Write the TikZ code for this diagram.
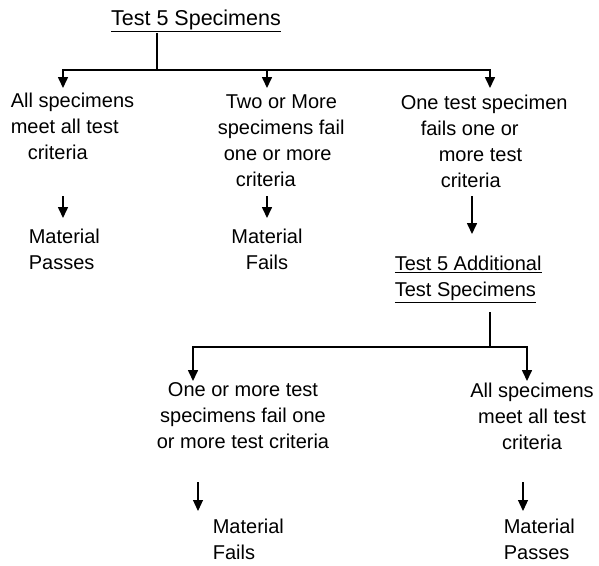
\documentclass[tikz,border=0pt]{standalone}
\usepackage{fontspec}
\setmainfont{Liberation Sans}
\usetikzlibrary{arrows.meta}

\begin{document}
\begin{tikzpicture}[x=1pt,y=-1pt,line width=1.6pt,>={Triangle[width=10pt,length=11pt]}]
    \tikzstyle{txt}=[inner sep=0pt,font=\fontsize{20}{26}\selectfont]
    \tikzstyle{head}=[txt,font=\fontsize{21.5}{26}\selectfont]
    \tikzstyle{thin}=[line width=1.1pt]

    \useasboundingbox (0,0) rectangle (599,565);

    %%%%%%%%%%%%%%%%%%%%%%%%%%%%%%%%%%%%%%%%%%%%
    %%% DRAW THE NODES
    %%%%%%%%%%%%%%%%%%%%%%%%%%%%%%%%%%%%%%%%%%%%
    \node[head] (T-1) at (196,21) {\underline{Test 5 Specimens}};

    \node[txt,anchor=west,align=left] (C-1) at (10,126)
        {All specimens\\meet all test\\\hspace*{17pt}criteria};
    \node[txt,anchor=west,align=left] (C-2) at (217,141)
        {\hspace*{8pt}Two or More\\specimens fail\\\hspace*{6pt}one or more\\\hspace*{18pt}criteria};
    \node[txt,anchor=west,align=left] (C-3) at (400,141)
        {One test specimen\\\hspace*{20pt}fails one or\\\hspace*{38pt}more test\\\hspace*{40pt}criteria};

    \node[txt,anchor=west,align=left] (R-1) at (28,249) {Material\\Passes};
    \node[txt,align=center] (R-2) at (267,249) {Material\\Fails};

    \node[head,txt,anchor=west,align=left] (T-2) at (394,279)
        {\underline{Test 5 Additional}\\\underline{Test Specimens}};

    \node[txt,align=center] (D-1) at (243,416)
        {One or more test\\specimens fail one\\or more test criteria};
    \node[txt,align=center] (D-2) at (532,416)
        {All specimens\\meet all test\\criteria};

    \node[txt,anchor=west,align=left] (R-3) at (212,539) {Material\\Fails};
    \node[txt,anchor=west,align=left] (R-4) at (503,539) {Material\\Passes};

    % junctions and arrow ends
    \coordinate (J-1) at (157,70);
    \coordinate (J-2) at (490,347);
    \coordinate (a-1) at (63,88);
    \coordinate (a-2) at (267,88);
    \coordinate (a-3) at (490,88);
    \coordinate (b-1) at (193,381);
    \coordinate (b-2) at (527,381);

    %%%%%%%%%%%%%%%%%%%%%%%%%%%%%%%%%%%%%%%%%%%%
    %%% DRAW THE PATHS
    %%%%%%%%%%%%%%%%%%%%%%%%%%%%%%%%%%%%%%%%%%%%
    \draw (T-1.south -| J-1) -- (J-1);
    \foreach \dest in {1,...,3}
        \draw[->] (J-1) -| (a-\dest);

    \draw ([yshift=-9pt]T-2.south -| J-2) -- (J-2);
    \foreach \dest in {1,2}
        \draw[->] (J-2) -| (b-\dest);

    % short arrows to the results
    \draw[->] (63,196) coordinate (s-1) -- (63,218) coordinate (e-1);
    \draw[->] (267,196) coordinate (s-2) -- (267,218) coordinate (e-2);
    \draw[->] (472,196) coordinate (s-3) -- (472,234) coordinate (e-3);
    \draw[->,thin] (198,482) coordinate (s-4) -- (198,511) coordinate (e-4);
    \draw[->,thin] (523,482) coordinate (s-5) -- (523,511) coordinate (e-5);
\end{tikzpicture}
\end{document}
